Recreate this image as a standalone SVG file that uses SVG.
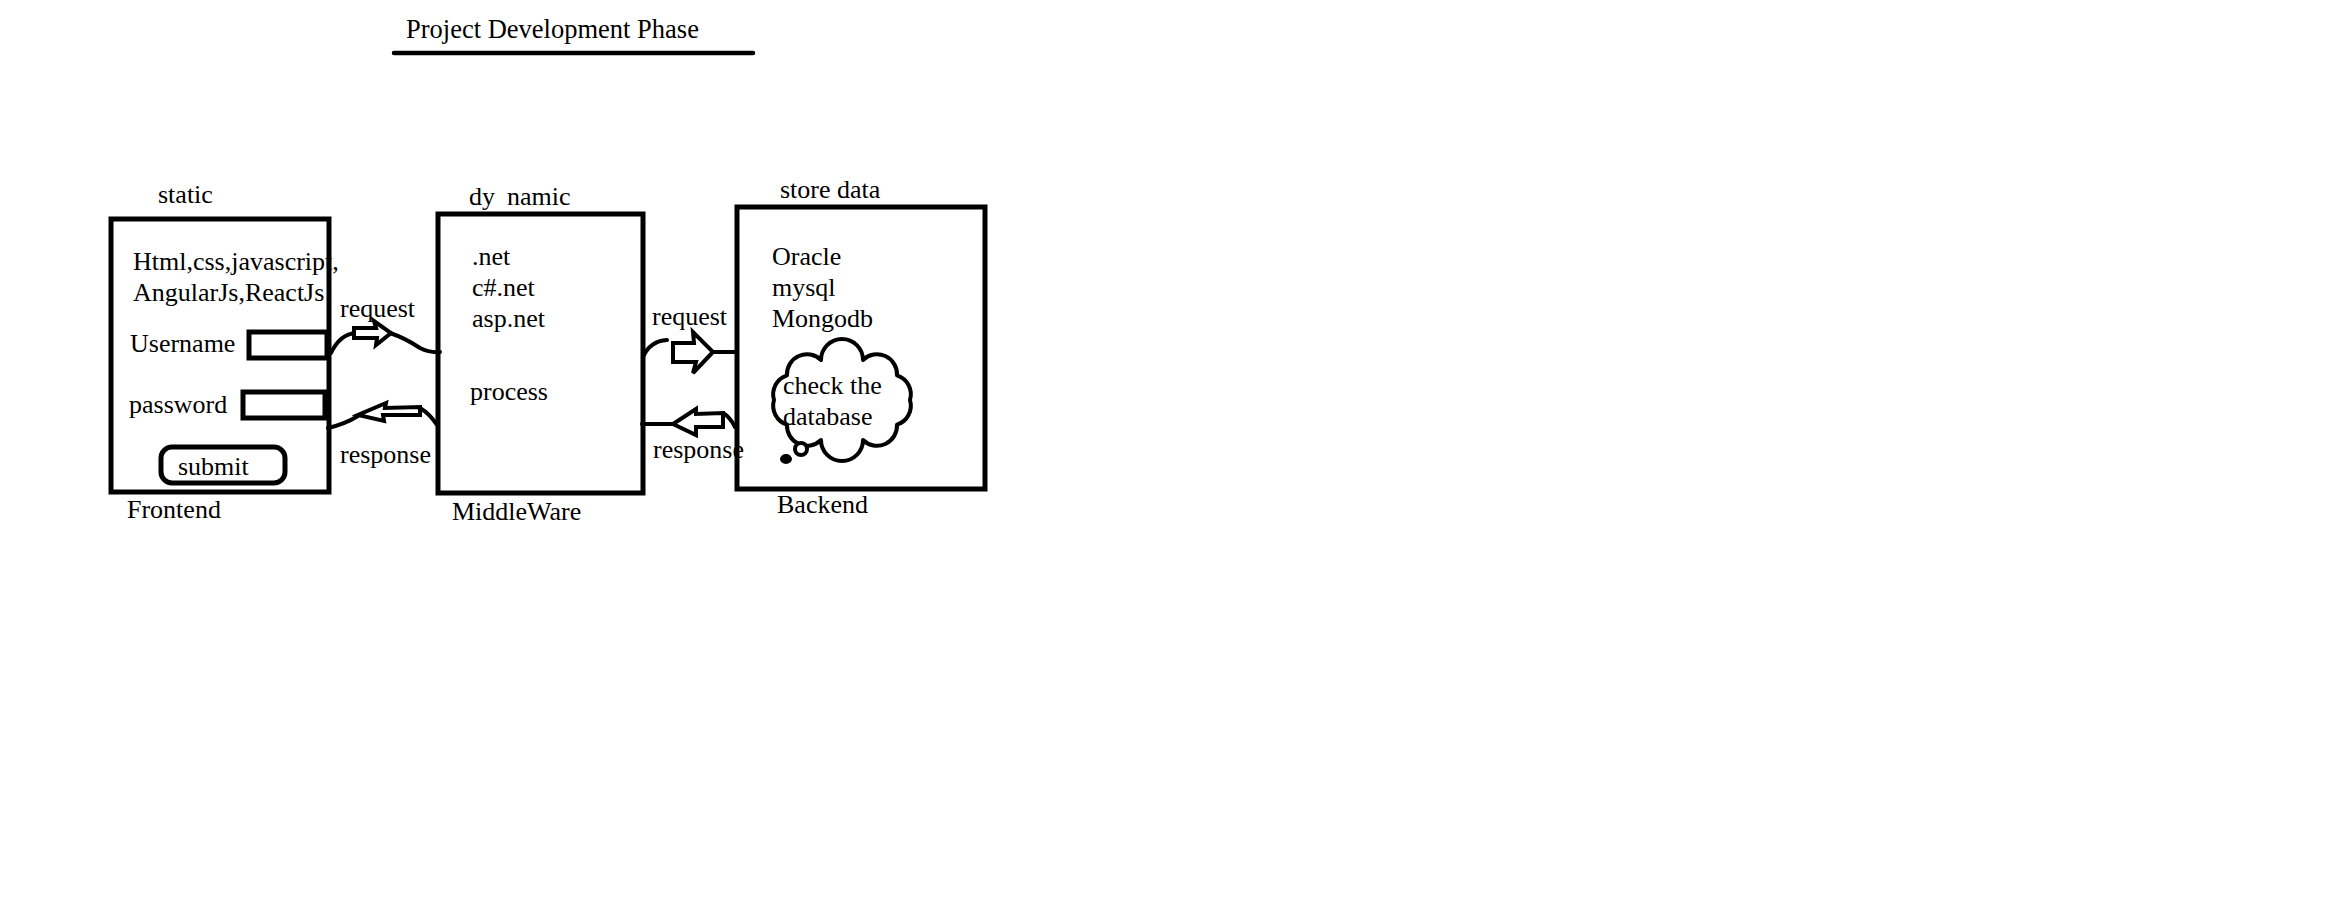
<svg xmlns="http://www.w3.org/2000/svg" width="2350" height="918" viewBox="0 0 2350 918">
<style>
text{font-family:"Liberation Serif","Times New Roman",serif;font-size:26px;fill:#000}
.box{fill:none;stroke:#000;stroke-width:5}
.ln{fill:none;stroke:#000;stroke-width:4;stroke-linecap:round;stroke-linejoin:round}
.arr{fill:#fff;stroke:#000;stroke-width:4;stroke-linejoin:miter}
</style>
<rect width="2350" height="918" fill="#fff"/>
<g id="title">
<text x="406" y="38" style="font-size:26.5px">Project Development Phase</text>
<line x1="394" y1="53" x2="753" y2="53" stroke="#000" stroke-width="4.5" stroke-linecap="round"/>
</g>
<g id="frontend">
<text x="158" y="203">static</text>
<rect class="box" x="111" y="219" width="218" height="273"/>
<text x="133" y="270">Html,css,javascript,</text>
<text x="133" y="301">AngularJs,ReactJs</text>
<text x="130" y="352">Username</text>
<rect class="box" x="249" y="332" width="78" height="26"/>
<text x="129" y="413">password</text>
<rect class="box" x="243" y="392" width="82" height="26"/>
<rect class="box" x="161" y="447" width="124" height="36" rx="11"/>
<text x="178" y="475">submit</text>
<text x="127" y="518">Frontend</text>
</g>
<g id="middleware">
<text x="469" y="205">dy<tspan dx="12">namic</tspan></text>
<rect class="box" x="438" y="214" width="205" height="279"/>
<text x="472" y="265">.net</text>
<text x="472" y="296">c#.net</text>
<text x="472" y="327">asp.net</text>
<text x="470" y="400">process</text>
<text x="452" y="520">MiddleWare</text>
</g>
<g id="backend">
<text x="780" y="198">store data</text>
<rect class="box" x="737" y="207" width="248" height="282"/>
<text x="772" y="265">Oracle</text>
<text x="772" y="296">mysql</text>
<text x="772" y="327">Mongodb</text>
<path class="ln" d="M910,400 A20,20 0 0 1 897,424.7 A20,20 0 0 1 863,440 A20,20 0 0 1 821,440 A20,20 0 0 1 787,424.7 A20,20 0 0 1 774,400 A20,20 0 0 1 787,375.3 A20,20 0 0 1 821,360 A20,20 0 0 1 863,360 A20,20 0 0 1 897,375.3 A20,20 0 0 1 910,400 Z"/>
<circle cx="801" cy="449" r="6" fill="#fff" stroke="#000" stroke-width="4"/>
<ellipse cx="786" cy="459" rx="5" ry="4" fill="#000" stroke="#000" stroke-width="2"/>
<text x="783" y="394">check the</text>
<text x="783" y="425">database</text>
<text x="777" y="513">Backend</text>
</g>
<g id="connectors">
<path class="ln" d="M331,353 Q340,334 356,333"/>
<path class="ln" d="M390,333 Q405,338 420,348 Q430,353 440,352"/>
<polygon class="arr" points="354,328 376,328 374,321 391,333 376,345 377,338 354,338"/>
<text x="340" y="317">request</text>
<path class="ln" d="M328,428 Q345,424 358,416"/>
<path class="ln" d="M420,408 Q430,414 437,425"/>
<polygon class="arr" points="420,407 420,415 383,415 384,421 358,415 386,403 385,408"/>
<text x="340" y="463">response</text>
<path class="ln" d="M643,357 Q650,341 667,340"/>
<path class="ln" d="M713,352 L736,352"/>
<polygon class="arr" points="673,343 694,343 693,332 713,352 693,373 696,362 673,362"/>
<text x="652" y="325">request</text>
<path class="ln" d="M642,424 L673,424"/>
<path class="ln" d="M723,413 Q730,417 735,427"/>
<polygon class="arr" points="723,413 723,427 696,427 696,435 673,424 696,409 696,414"/>
<text x="653" y="458">response</text>
</g>
</svg>
